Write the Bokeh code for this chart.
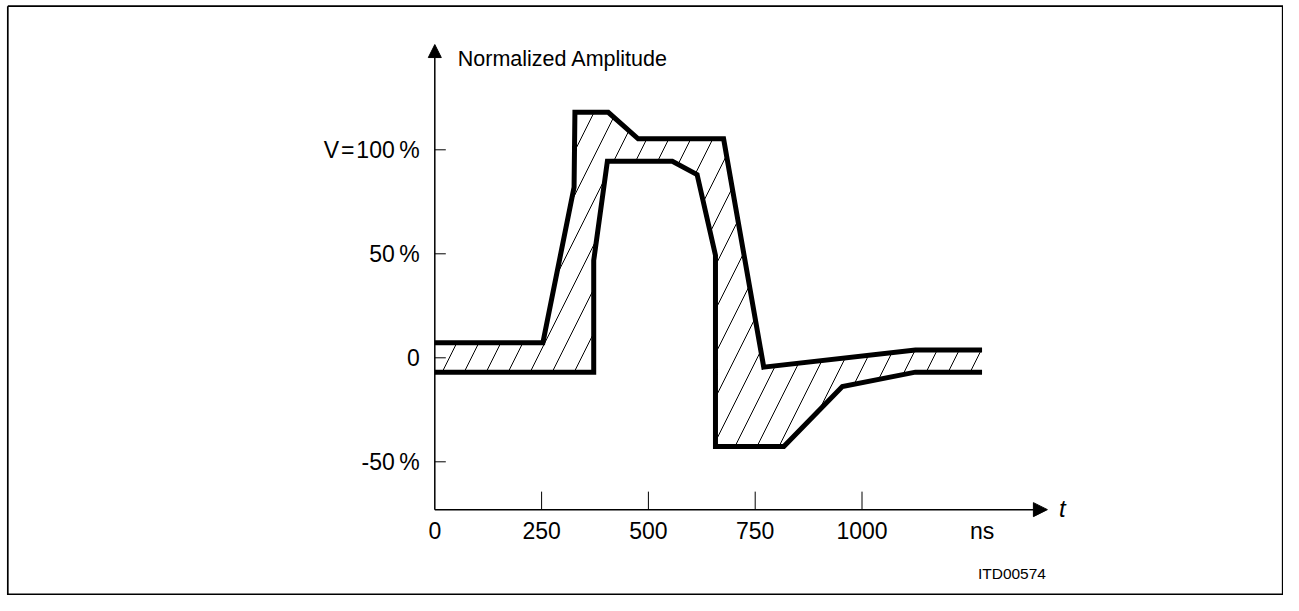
from bokeh.plotting import figure
from bokeh.models import Range1d, Arrow, NormalHead
from bokeh.core.properties import value
from bokeh.embed import file_html
from bokeh.resources import INLINE

# ---------------- data ----------------
# upper (outer) tolerance limit of the pulse, time in ns / amplitude in %
time_upper = [0, 253, 326, 328, 406, 476, 676, 770, 1125, 1281]
amp_upper = [7.2, 7.2, 82.0, 118.0, 118.0, 105.3, 105.3, -4.5, 3.8, 3.8]
# lower (inner) tolerance limit
time_lower = [0, 372, 372, 404, 556, 614, 657, 657, 817, 954, 1125, 1281]
amp_lower = [-6.9, -6.9, 46.8, 94.5, 94.5, 88.1, 49.3, -42.6, -42.6, -13.8, -6.9, -6.9]

x_ticks = [0, 250, 500, 750, 1000]
x_tick_labels = ["0", "250", "500", "750", "1000"]
y_ticks = [-50, 0, 50, 100]
y_tick_labels = ["-50\u2009%", "0", "50\u2009%", "V\u200a=\u200a100\u2009%"]

y_title = "Normalized Amplitude"
x_title = "t"
x_unit = "ns"
x_unit_at = [1281]
doc_id = "ITD00574"
doc_id_at = ([1351], [-103.7])

# axis extents (data units)
x_axis_level = -73.0
x_axis_end = 1434.0
y_axis_end = 150.6

# ---------------- layout ----------------
W, H = 1283, 595
PX_PER_NS = 106.8 / 250.0
PX_PER_PCT = 104.0 / 50.0
X0_PX = 434.3      # canvas px of t = 0
Y0_PX = 357.3      # canvas px (from top) of 0 %

x_start = -X0_PX / PX_PER_NS
x_end = x_start + W / PX_PER_NS
y_end = Y0_PX / PX_PER_PCT
y_start = y_end - H / PX_PER_PCT


def px_x(px):
    return x_start + px / PX_PER_NS


def px_y(py):
    return y_end - py / PX_PER_PCT


p = figure(width=W, height=H, output_backend="svg", toolbar_location=None,
           x_axis_type=None, y_axis_type=None, min_border=0,
           x_range=Range1d(x_start, x_end), y_range=Range1d(y_start, y_end))
p.background_fill_color = "white"
p.border_fill_color = "white"
p.outline_line_color = None

LABEL_FONT = value("Liberation Sans")

# drawing frame
fl, ft, fr, fb = px_x(7.3), px_y(5.7), px_x(1282.2), px_y(593.8)
p.multi_line(xs=[[fl, fr, fr, fl, fl]], ys=[[ft, ft, fb, fb, ft]],
             line_color="black", line_width=1.7, line_join="miter")

# hatched tolerance band
band_x = time_upper + time_lower[::-1]
band_y = amp_upper + amp_lower[::-1]
p.patch(band_x, band_y, fill_color=None, line_color=None,
        hatch_pattern="/", hatch_scale=44, hatch_weight=1, hatch_color="black")

# limit lines
p.line(time_upper, amp_upper, line_width=5, line_color="black", line_join="miter")
p.line(time_lower, amp_lower, line_width=5, line_color="black", line_join="miter")

# axes with arrows
p.add_layout(Arrow(end=NormalHead(size=14, fill_color="black", line_color="black", line_width=1),
                   x_start=0, y_start=x_axis_level, x_end=x_axis_end, y_end=x_axis_level,
                   line_width=1.5, line_color="black"))
p.add_layout(Arrow(end=NormalHead(size=13, fill_color="black", line_color="black", line_width=1),
                   x_start=0, y_start=x_axis_level, x_end=0, y_end=y_axis_end,
                   line_width=1.5, line_color="black"))

# ticks
p.ray(x=x_ticks[1:], y=[x_axis_level] * (len(x_ticks) - 1), length=18,
      length_units="screen", angle=90, angle_units="deg", line_color="black", line_width=1)
p.ray(x=[0] * len(y_ticks), y=y_ticks, length=11, length_units="screen",
      angle=0, line_color="black", line_width=1)

# tick labels
p.text(x=x_ticks, y=[x_axis_level] * len(x_ticks), text=x_tick_labels,
       text_font=LABEL_FONT, text_font_size="23px", text_align="center",
       text_baseline="middle", y_offset=21, text_color="black")
p.text(x=[0] * len(y_ticks), y=y_ticks, text=y_tick_labels,
       text_font=LABEL_FONT, text_font_size="23px", text_align="right",
       text_baseline="middle", x_offset=-15, text_color="black")
p.text(x=x_unit_at, y=[x_axis_level], text=[x_unit],
       text_font=LABEL_FONT, text_font_size="23px", text_align="center",
       text_baseline="middle", y_offset=21, text_color="black")

# axis titles
p.text(x=[0], y=[y_axis_end], text=[y_title], text_font=LABEL_FONT,
       text_font_size="21.5px", text_align="left", text_baseline="alphabetic",
       x_offset=23, y_offset=14, text_color="black")
p.text(x=[x_axis_end], y=[x_axis_level], text=[x_title], text_font=LABEL_FONT,
       text_font_style="italic", text_font_size="24px", text_align="center",
       text_baseline="middle", x_offset=15, y_offset=-1, text_color="black")

# drawing id
p.text(x=doc_id_at[0], y=doc_id_at[1], text=[doc_id], text_font=LABEL_FONT,
       text_font_size="15.5px", text_align="center", text_baseline="middle",
       text_color="black")

open("out.html", "w").write(file_html(p, INLINE))
